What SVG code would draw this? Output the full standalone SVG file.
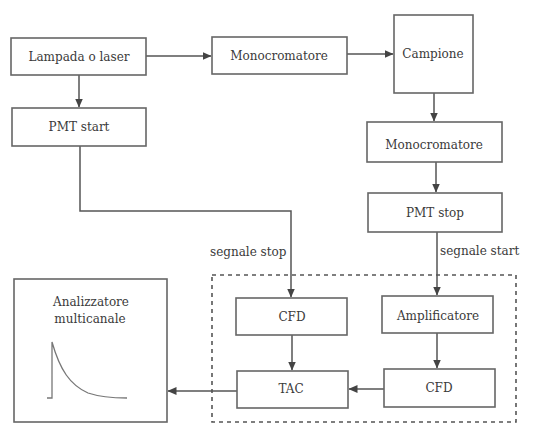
<svg xmlns="http://www.w3.org/2000/svg" width="536" height="437" viewBox="0 0 536 437">
<defs>
<marker id="ah" markerWidth="9" markerHeight="8" refX="8.5" refY="4" orient="auto" markerUnits="userSpaceOnUse">
<path d="M0,0 L9,4 L0,8 Z" fill="#444"/>
</marker>
<style>
.box{fill:#fff;stroke:#666;stroke-width:1.6}
.t{font-family:'DejaVu Serif',serif;font-size:12px;fill:#3a3a3a;text-anchor:middle}
.l{font-family:'DejaVu Serif',serif;font-size:12px;fill:#3a3a3a}
.c{fill:none;stroke:#555;stroke-width:1.5;marker-end:url(#ah)}
</style>
</defs>
<rect width="536" height="437" fill="#fff"/>
<rect x="212" y="275" width="304" height="147" fill="none" stroke="#555" stroke-width="1.6" stroke-dasharray="4,4"/>
<g id="connectors">
<line class="c" x1="146" y1="56" x2="211" y2="56"/>
<line class="c" x1="347" y1="54" x2="393" y2="54"/>
<line class="c" x1="79" y1="75" x2="79" y2="107"/>
<line class="c" x1="434" y1="93" x2="434" y2="121"/>
<line class="c" x1="436" y1="162" x2="436" y2="192"/>
<polyline class="c" points="80,146 80,211 291,211 291,297"/>
<line class="c" x1="437" y1="232" x2="437" y2="295"/>
<line class="c" x1="292" y1="335" x2="292" y2="370"/>
<line class="c" x1="437" y1="333" x2="437" y2="368"/>
<line class="c" x1="384" y1="389" x2="349" y2="389"/>
<line class="c" x1="237" y1="391" x2="168" y2="391"/>
</g>
<g id="lampada"><rect class="box" x="11" y="38" width="135" height="37"/><text class="t" x="79" y="61">Lampada o laser</text></g>
<g id="mono1"><rect class="box" x="212" y="37" width="135" height="37"/><text class="t" x="279" y="60">Monocromatore</text></g>
<g id="campione"><rect class="box" x="394" y="15" width="79" height="78"/><text class="t" x="433" y="58">Campione</text></g>
<g id="pmtstart"><rect class="box" x="12" y="108" width="134" height="38"/><text class="t" x="79" y="131">PMT start</text></g>
<g id="mono2"><rect class="box" x="367" y="122" width="135" height="40"/><text class="t" x="434" y="149">Monocromatore</text></g>
<g id="pmtstop"><rect class="box" x="368" y="193" width="134" height="39"/><text class="t" x="435" y="217">PMT stop</text></g>
<text class="l" x="440" y="255">segnale start</text>
<text class="l" x="210" y="256">segnale stop</text>
<g id="cfd1"><rect class="box" x="236" y="298" width="111" height="37"/><text class="t" x="292" y="321">CFD</text></g>
<g id="amp"><rect class="box" x="382" y="296" width="111" height="37"/><text class="t" x="438" y="320">Amplificatore</text></g>
<g id="tac"><rect class="box" x="237" y="371" width="111" height="37"/><text class="t" x="291" y="393">TAC</text></g>
<g id="cfd2"><rect class="box" x="384" y="369" width="111" height="38"/><text class="t" x="439" y="392">CFD</text></g>
<g id="analizzatore"><rect class="box" x="14" y="279" width="153" height="143"/>
<text class="t" x="91" y="306">Analizzatore</text><text class="t" x="90" y="323">multicanale</text>
<path d="M47,398 L52,398 L52,342 C60,370 70,385 88,393 C100,397 110,398 127,398" fill="none" stroke="#777" stroke-width="1.3"/>
</g>
</svg>
